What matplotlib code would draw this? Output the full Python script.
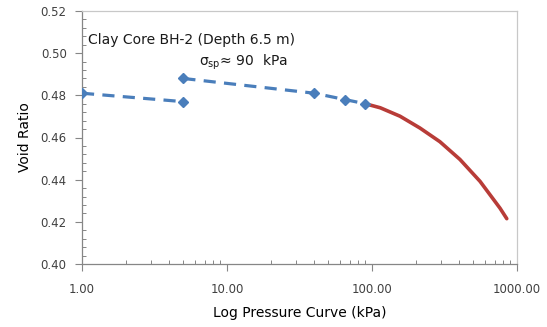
import numpy as np
import matplotlib.pyplot as plt
from matplotlib.ticker import FixedLocator, LogLocator, NullFormatter, FormatStrFormatter

plt.rcParams['mathtext.default'] = 'regular'

# oedometer loading points (pressure kPa, void ratio)
load_p = [1.0, 5.0, 5.0, 40.0, 65.0, 90.0]
load_e = [0.481, 0.477, 0.488, 0.481, 0.478, 0.476]

# virgin compression curve beyond preconsolidation
vcl_p = [90.0, 114.0, 156.0, 214.0, 294.0, 404.0, 556.0, 763.0, 850.0]
vcl_e = [0.476, 0.4741, 0.4701, 0.4645, 0.4580, 0.4496, 0.4392, 0.4265, 0.4215]

x_ticks = [1, 10, 100, 1000]
y_ticks = [0.40, 0.42, 0.44, 0.46, 0.48, 0.50, 0.52]

fig = plt.figure(figsize=(5.47, 3.27), dpi=100)
ax = fig.add_axes([82/547, 1 - 264/327, (517-82)/547, (264-11)/327])

blue = '#4a7ebb'
# dashed segments: first reading pair, then reload branch from the upper point
ax.plot(load_p[:2], load_e[:2], color=blue, lw=2.3, ls=(0, (3.8, 2.6)), zorder=3)
ax.plot(load_p[2:], load_e[2:], color=blue, lw=2.3, ls=(0, (3.8, 2.6)), zorder=3)
ax.plot(load_p, load_e, ls='none', marker='D', ms=5.5, mfc=blue, mec=blue, zorder=4)
ax.plot(vcl_p, vcl_e, color='#b83c38', lw=2.6, solid_capstyle='round',
        solid_joinstyle='round', zorder=2)

ax.set_xscale('log')
ax.set_xlim(1, 1000)
ax.set_ylim(0.40, 0.52)
ax.xaxis.set_major_locator(FixedLocator(x_ticks))
ax.xaxis.set_major_formatter(FormatStrFormatter('%.2f'))
ax.xaxis.set_minor_locator(LogLocator(base=10, subs=np.arange(2, 10)))
ax.xaxis.set_minor_formatter(NullFormatter())
ax.yaxis.set_major_locator(FixedLocator(y_ticks))
ax.yaxis.set_major_formatter(FormatStrFormatter('%.2f'))
ax.yaxis.set_minor_locator(FixedLocator(np.arange(0.40, 0.5201, 0.004)))

ax.tick_params(which='major', direction='out', length=5, width=0.8,
               color='#868686', labelsize=8.5, labelcolor='#404040')
ax.tick_params(which='minor', direction='in', length=3, width=0.7, color='#868686')
ax.tick_params(axis='x', which='major', pad=9)
ax.tick_params(axis='y', which='major', pad=6)

for side in ['left', 'bottom']:
    ax.spines[side].set_color('#868686')
    ax.spines[side].set_linewidth(0.9)
for side in ['top', 'right']:
    ax.spines[side].set_color('#c8c8c8')
    ax.spines[side].set_linewidth(0.9)

ax.set_xlabel('Log Pressure Curve (kPa)', fontsize=10, labelpad=7)
ax.set_ylabel('Void Ratio', fontsize=10, labelpad=6)

ax.text(1.1, 0.5062, 'Clay Core BH-2 (Depth 6.5 m)', fontsize=10, color='#1a1a1a',
        va='center')
ax.text(6.4, 0.4955, r'$\sigma_{sp}$' + '\u2248 90  kPa', fontsize=10, color='#1a1a1a',
        va='center')

fig.savefig('out.png', dpi=100)
